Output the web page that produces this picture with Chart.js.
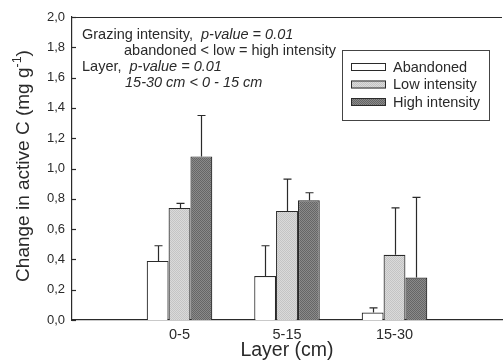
<!DOCTYPE html>
<html>
<head>
<meta charset="utf-8">
<script src="https://cdn.jsdelivr.net/npm/chart.js@4.4.1/dist/chart.umd.min.js"></script>
<style>
  html, body { margin: 0; padding: 0; background: #fff; overflow: hidden; }
  #wrap { width: 508px; height: 362px; }
</style>
</head>
<body>
<div id="wrap"><canvas id="chart"></canvas></div>
<script>
// --- data ---
const layers = ['', '0-5', '5-15', '15-30', ''];
const abandoned = [null, 0.39, 0.29, 0.05, null];
const lowIntensity = [null, 0.74, 0.72, 0.43, null];
const highIntensity = [null, 1.08, 0.79, 0.28, null];
// upper end of the error bar (mean + SE)
const abandonedErr = [null, 0.49, 0.49, 0.08, null];
const lowErr = [null, 0.77, 0.93, 0.74, null];
const highErr = [null, 1.35, 0.84, 0.81, null];
const yTicks = [0, 0.2, 0.4, 0.6, 0.8, 1.0, 1.2, 1.4, 1.6, 1.8, 2.0];

const FONT = '"Liberation Sans", Arial, sans-serif';
const INK = '#2a2a2a';

// little stipple fill, like the scanned print
function stipple(a, b) {
    const c = document.createElement('canvas');
    c.width = 2; c.height = 2;
    const g = c.getContext('2d');
    g.fillStyle = a; g.fillRect(0, 0, 2, 2);
    g.fillStyle = b; g.fillRect(0, 0, 1, 1); g.fillRect(1, 1, 1, 1);
    return g.createPattern(c, 'repeat');
}
const lowFill = stipple('#dadada', '#c4c4c4');
const highFill = stipple('#8a8a8a', '#666666');

const errors = [abandonedErr, lowErr, highErr];

// top frame line, inward y ticks, error bars, legend, notes, y title
const extras = {
    id: 'extras',
    afterDatasetsDraw(chart) {
        const { ctx, chartArea: a, scales: { x, y } } = chart;
        ctx.save();
        ctx.strokeStyle = INK;
        ctx.lineWidth = 1.2;

        // top line of the frame
        ctx.beginPath();
        ctx.moveTo(a.left, a.top + 0.5);
        ctx.lineTo(a.right, a.top + 0.5);
        ctx.stroke();

        // ticks pointing into the plot
        yTicks.forEach(v => {
            const py = Math.round(y.getPixelForValue(v)) + 0.5;
            ctx.beginPath();
            ctx.moveTo(a.left, py);
            ctx.lineTo(a.left + 4, py);
            ctx.stroke();
        });

        // error bars (upper only)
        errors.forEach((arr, di) => {
            const meta = chart.getDatasetMeta(di);
            meta.data.forEach((bar, i) => {
                if (arr[i] == null) return;
                const bx = Math.round(bar.x) + 0.5;
                const top = y.getPixelForValue(arr[i]);
                ctx.beginPath();
                ctx.moveTo(bx, bar.y);
                ctx.lineTo(bx, top);
                ctx.moveTo(bx - 4, top);
                ctx.lineTo(bx + 4, top);
                ctx.stroke();
            });
        });

        // legend box
        ctx.lineWidth = 1;
        ctx.strokeStyle = '#444';
        ctx.strokeRect(342.5, 50.5, 147, 70);
        ctx.font = '14.5px ' + FONT;
        ctx.textBaseline = 'middle';
        chart.data.datasets.forEach((ds, i) => {
            const ly = 67 + i * 17.5;
            ctx.fillStyle = ds.backgroundColor;
            ctx.fillRect(351, ly - 4, 35, 8);
            ctx.strokeStyle = INK;
            ctx.strokeRect(351.5, ly - 3.5, 34, 7);
            ctx.fillStyle = INK;
            ctx.fillText(ds.label, 393, ly + 0.5);
        });

        // statistics notes
        const notes = [
            [82, 35, 'Grazing intensity,  ', 'p-value = 0.01'],
            [124, 51, 'abandoned < low = high intensity', ''],
            [82, 67, 'Layer,  ', 'p-value = 0.01'],
            [125, 83, '', '15-30 cm < 0 - 15 cm']
        ];
        notes.forEach(([nx, ny, plain, ital]) => {
            ctx.font = '14.5px ' + FONT;
            ctx.fillText(plain, nx, ny);
            const w = ctx.measureText(plain).width;
            ctx.font = 'italic 14.5px ' + FONT;
            ctx.fillText(ital, nx + w, ny);
        });

        // y axis title with superscript
        ctx.textBaseline = 'alphabetic';
        ctx.translate(29, 166);
        ctx.rotate(-Math.PI / 2);
        const main = 'Change in active C (mg g';
        const sup = '-1';
        const tail = ')';
        ctx.font = '19px ' + FONT;
        const w1 = ctx.measureText(main).width;
        const w3 = ctx.measureText(tail).width;
        ctx.font = '12.5px ' + FONT;
        const w2 = ctx.measureText(sup).width;
        let tx = -(w1 + w2 + w3) / 2;
        ctx.font = '19px ' + FONT;
        ctx.fillText(main, tx, 0);
        ctx.font = '12.5px ' + FONT;
        ctx.fillText(sup, tx + w1, -8);
        ctx.font = '19px ' + FONT;
        ctx.fillText(tail, tx + w1 + w2, 0);
        ctx.restore();
    }
};

const barStyle = { borderColor: INK, borderWidth: 1.2, borderSkipped: 'bottom' };

new Chart(document.getElementById('chart'), {
    type: 'bar',
    data: {
        labels: layers,
        datasets: [
            { label: 'Abandoned', data: abandoned, backgroundColor: '#ffffff', ...barStyle },
            { label: 'Low intensity', data: lowIntensity, backgroundColor: lowFill, ...barStyle },
            { label: 'High intensity', data: highIntensity, backgroundColor: highFill, ...barStyle }
        ]
    },
    options: {
        responsive: true,
        maintainAspectRatio: false,
        animation: false,
        events: [],
        layout: { padding: { top: 17, right: 0, left: 0, bottom: 0 } },
        datasets: { bar: { barPercentage: 1, categoryPercentage: 0.61 } },
        plugins: { legend: { display: false }, tooltip: { enabled: false } },
        scales: {
            x: {
                offset: false,
                grid: { display: false, drawTicks: false },
                border: { color: INK, width: 1.2 },
                ticks: { color: INK, font: { family: FONT, size: 14.5 }, padding: 6, maxRotation: 0, autoSkip: false },
                title: { display: true, text: 'Layer (cm)', color: INK, font: { family: FONT, size: 19.5 }, padding: { top: 0, bottom: 0 } },
                afterFit(s) { s.height = 42; }
            },
            y: {
                min: 0,
                max: 2,
                grid: { display: false, drawTicks: false },
                border: { color: INK, width: 1.2 },
                ticks: {
                    stepSize: 0.2,
                    color: INK,
                    padding: 7,
                    font: { family: FONT, size: 13 },
                    callback: v => v.toFixed(1).replace('.', ',')
                },
                afterFit(s) { s.width = 72; }
            }
        }
    },
    plugins: [extras]
});
</script>
</body>
</html>
